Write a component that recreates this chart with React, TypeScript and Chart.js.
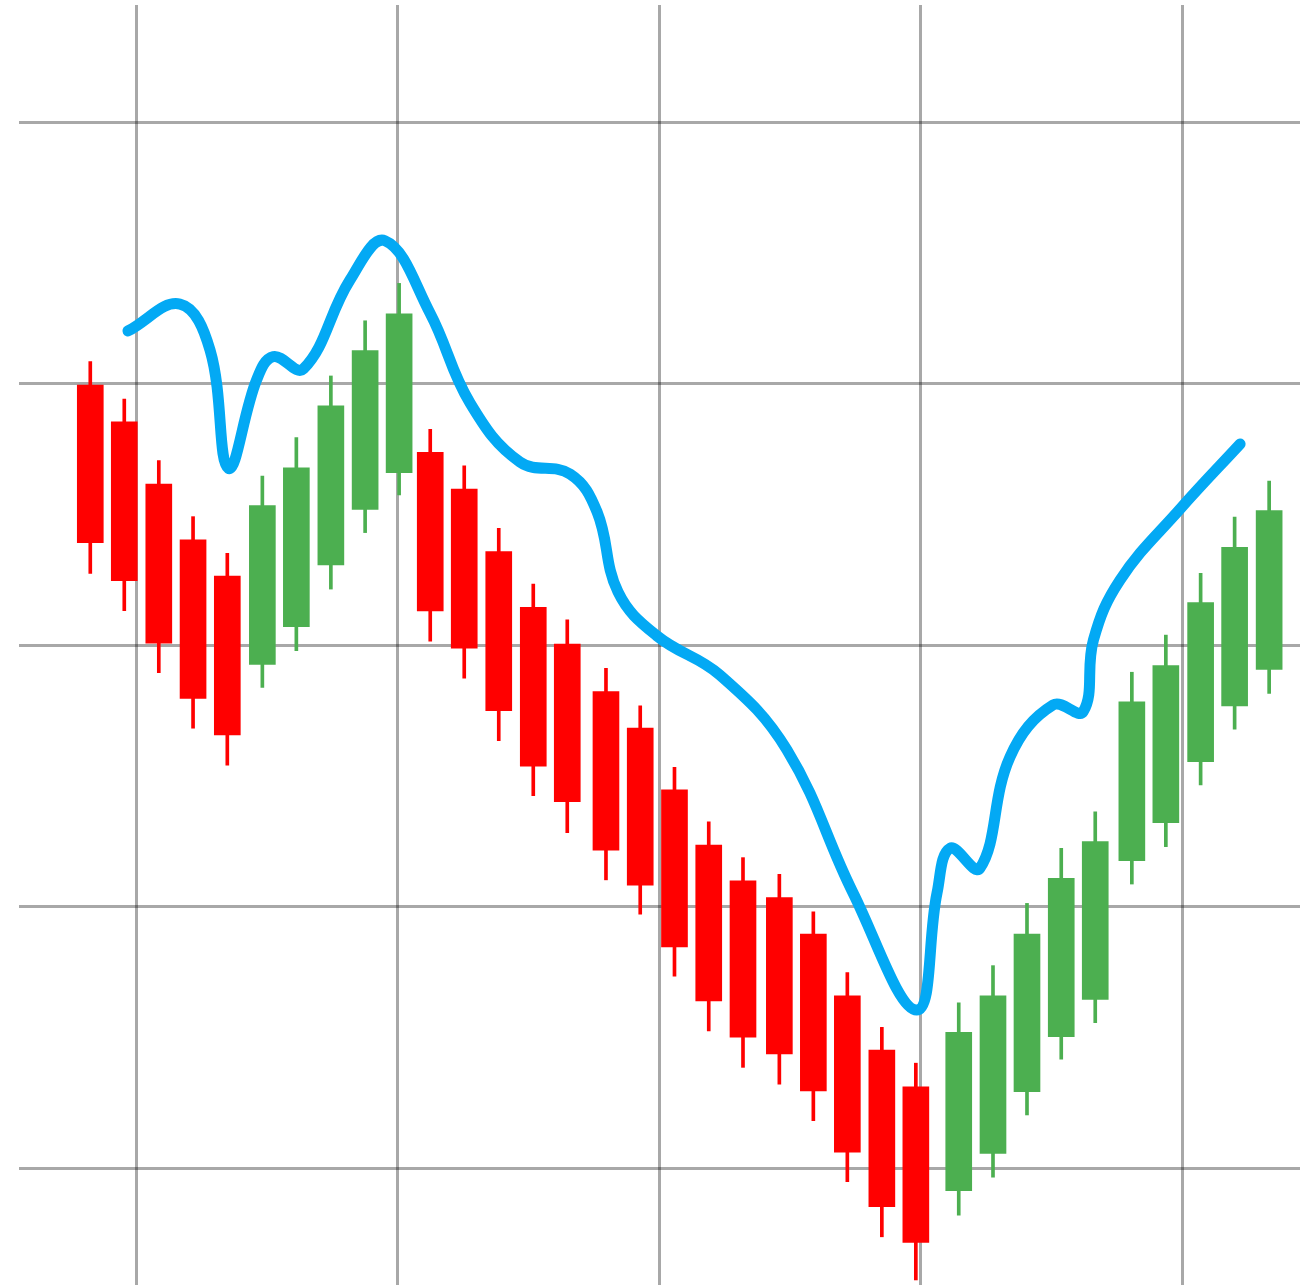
import React, { useEffect, useRef } from "react";
import { Chart, registerables } from "chart.js";

Chart.register(...registerables);

// Candle times (x positions on a linear time axis)
const times = [
  8.24, 9.54, 10.86, 12.17, 13.48, 14.82, 16.12, 17.44, 18.75, 20.05,
  21.24, 22.54, 23.86, 25.18, 26.48, 27.96, 29.27, 30.58, 31.89, 33.2,
  34.59, 35.89, 37.19, 38.51, 39.81, 41.45, 42.76, 44.06, 45.37, 46.67,
  48.07, 49.37, 50.7, 52.0, 53.32,
];
const opens = [
  129.95, 128.55, 126.17, 124.03, 122.65, 119.27, 120.71, 123.07, 125.2, 126.6,
  127.38, 125.97, 123.58, 121.45, 120.05, 118.23, 116.83, 114.47, 112.36, 110.99,
  110.35, 108.96, 106.6, 104.52, 103.12, 99.14, 100.57, 102.93, 105.03, 106.46,
  111.76, 113.22, 115.55, 117.68, 119.08,
];
const highs = [
  130.85, 129.42, 127.06, 124.92, 123.52, 126.47, 127.94, 130.3, 132.41, 133.84,
  128.26, 126.86, 124.47, 122.34, 120.97, 119.12, 117.69, 115.33, 113.25, 111.88,
  111.24, 109.81, 107.48, 105.39, 104.02, 106.33, 107.75, 110.13, 112.24, 113.63,
  118.97, 120.39, 122.75, 124.9, 126.28,
];
const lows = [
  122.75, 121.32, 118.95, 116.83, 115.42, 118.39, 119.79, 122.15, 124.31, 125.75,
  120.16, 118.74, 116.35, 114.25, 112.83, 111.03, 109.72, 107.35, 105.25, 103.86,
  103.22, 101.82, 99.49, 97.38, 95.73, 98.21, 99.66, 102.04, 104.17, 105.57,
  110.87, 112.3, 114.66, 116.79, 118.16,
];
const closes = [
  123.92, 122.47, 120.08, 117.97, 116.57, 125.34, 126.79, 129.16, 131.27, 132.68,
  121.31, 119.89, 117.5, 115.38, 114.02, 112.17, 110.83, 108.47, 106.4, 105.01,
  104.37, 102.96, 100.62, 98.53, 97.17, 105.2, 106.6, 108.96, 111.09, 112.49,
  117.84, 119.22, 121.63, 123.75, 125.15,
];

// Trend line (x, y)
const trendX = [
  9.68, 11.67, 12.82, 13.52, 14.6, 15.24, 16.39, 18.17, 19.51, 21.23,
  22.76, 24.67, 26.59, 27.62, 28.42, 29.91, 32.32, 34.88, 37.41, 39.84,
  40.62, 41.12, 42.26, 43.41, 45.06, 46.21, 46.6, 47.62, 49.91, 52.21,
];
const trendY = [
  132.02, 133.05, 131.29, 126.77, 130.15, 131.04, 130.57, 133.97, 135.47, 132.71,
  129.27, 127.01, 126.55, 125.1, 122.04, 120.36, 118.86, 116.0, 110.53, 106.05,
  110.53, 112.24, 111.47, 115.73, 117.72, 117.46, 120.2, 122.5, 125.21, 127.7,
];

const xGridTicks = [10, 20, 30, 40, 50];
const yGridTicks = [100, 110, 120, 130, 140];

const RED = "#ff0000";
const GREEN = "#4caf50";
const BLUE = "#03a9f4";

export default function App() {
  const ref = useRef<HTMLCanvasElement | null>(null);

  useEffect(() => {
    if (!ref.current) return;
    const colors = opens.map((o, i) => (closes[i] < o ? RED : GREEN));
    const bodies = times.map((t, i) => ({ x: t, y: [opens[i], closes[i]] }));
    const wicks = times.map((t, i) => ({ x: t, y: [lows[i], highs[i]] }));
    const trend = trendX.map((x, i) => ({ x, y: trendY[i] }));

    const chart = new Chart(ref.current, {
      type: "bar",
      data: {
        datasets: [
          {
            type: "line",
            data: trend as any,
            borderColor: BLUE,
            borderWidth: 11,
            pointRadius: 0,
            tension: 0.4,
            borderCapStyle: "round",
            borderJoinStyle: "round",
            fill: false,
            order: 0,
          } as any,
          {
            type: "bar",
            data: bodies as any,
            backgroundColor: colors,
            barThickness: 26,
            grouped: false,
            borderWidth: 0,
            order: 1,
          } as any,
          {
            type: "bar",
            data: wicks as any,
            backgroundColor: colors,
            barThickness: 3,
            grouped: false,
            borderWidth: 0,
            order: 2,
          } as any,
        ],
      },
      options: {
        animation: false,
        responsive: false,
        layout: { padding: { left: 19, right: 6, top: 5, bottom: 2 } },
        plugins: { legend: { display: false }, tooltip: { enabled: false } },
        scales: {
          x: {
            type: "linear",
            min: 5.514,
            max: 54.5,
            offset: false,
            grid: {
              offset: false,
              color: "rgba(0,0,0,0.34)",
              lineWidth: 3,
              drawTicks: false,
            },
            border: { display: false },
            ticks: { display: false },
            afterBuildTicks: (scale: any) => {
              scale.ticks = xGridTicks.map((v) => ({ value: v }));
            },
          },
          y: {
            type: "linear",
            min: 95.537,
            max: 144.486,
            grid: {
              color: "rgba(0,0,0,0.34)",
              lineWidth: 3,
              drawTicks: false,
            },
            border: { display: false },
            ticks: { display: false },
            afterBuildTicks: (scale: any) => {
              scale.ticks = yGridTicks.map((v) => ({ value: v }));
            },
          },
        },
      } as any,
    });
    return () => chart.destroy();
  }, []);

  return (
    <div style={{ position: "absolute", left: 0, top: 0, width: 1306, height: 1287 }}>
      <canvas ref={ref} width={1306} height={1287} style={{ width: 1306, height: 1287 }} />
    </div>
  );
}
